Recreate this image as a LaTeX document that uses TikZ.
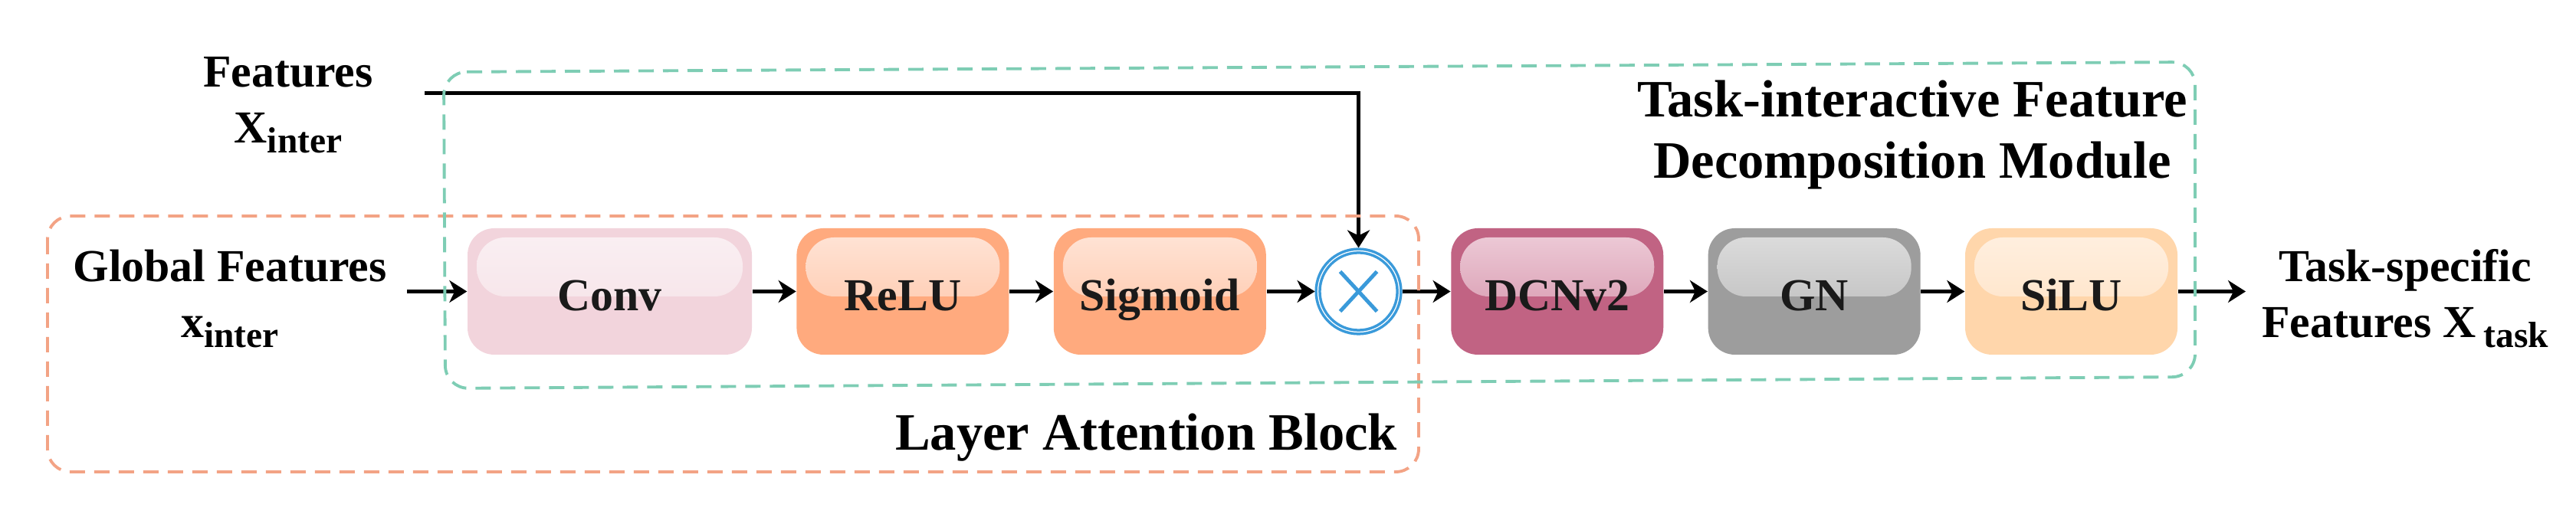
\documentclass[tikz,border=0pt]{standalone}
\usepackage{fontspec}
\setmainfont{Liberation Serif}
\usetikzlibrary{positioning,arrows.meta,calc}

\definecolor{convpink}{HTML}{F2D4DC}
\definecolor{convshine}{HTML}{FAF0F3}
\definecolor{relusalmon}{HTML}{FFAA7E}
\definecolor{relushine}{HTML}{FFE5D8}
\definecolor{dcnrose}{HTML}{C16383}
\definecolor{dcnshine}{HTML}{EECDD9}
\definecolor{gngray}{HTML}{9D9D9D}
\definecolor{gnshine}{HTML}{DEDEDE}
\definecolor{silupeach}{HTML}{FFD6AB}
\definecolor{silushine}{HTML}{FFF0E1}
\definecolor{mulblue}{HTML}{3A9ADA}
\definecolor{blockorange}{HTML}{F3A385}
\definecolor{modulegreen}{HTML}{7ECDB4}
\definecolor{blocktext}{HTML}{1A1A1A}

\newcommand{\subtxt}[1]{\raisebox{-3.7pt}{\fontsize{13.5pt}{14pt}\selectfont #1}}

\tikzset{
	glossy/.style 2 args={
		rectangle, rounded corners=0.35cm,
		minimum width=2.77cm, minimum height=1.65cm,
		text height=14pt, text depth=0pt,
		fill=#1, text=blocktext,
		path picture={
			\fill[rounded corners=0.37cm, top color=#2, bottom color=#2!35!#1]
			([xshift=0.12cm,yshift=-0.12cm]path picture bounding box.north west)
			rectangle ([xshift=-0.12cm,yshift=-0.89cm]path picture bounding box.north east);
		}
	},
	multiply/.style={
		circle, draw=mulblue, line width=1pt, double=white, double distance=0.35pt,
		minimum size=1.06cm, inner sep=0pt, outer sep=0.04cm,
		path picture={
			\draw[mulblue, line width=1.4pt]
			($(path picture bounding box.center)+(-0.24,0.26)$) -- ($(path picture bounding box.center)+(0.24,-0.26)$)
			($(path picture bounding box.center)+(0.24,0.26)$) -- ($(path picture bounding box.center)+(-0.24,-0.26)$);
		}
	},
	flow/.style={->, line width=1.6pt},
	dashbox/.style={draw=#1, line width=1.1pt, dash pattern=on 0.2cm off 0.12cm, rounded corners=0.3cm},
	title/.style={font=\fontsize{19.5pt}{22.5pt}\selectfont\bfseries}
}

\begin{document}
	\begin{tikzpicture}[
		font=\fontsize{17pt}{20.8pt}\selectfont\bfseries,
		>={Stealth[length=0.23cm,width=0.29cm,inset=0.07cm]}
		]
		\useasboundingbox (0,0) rectangle (33.61,-6.71);
		
		% main chain
		\node[glossy={convpink}{convshine}, minimum width=3.71cm] (conv) at (7.955,-3.805) {Conv};
		\node[glossy={relusalmon}{relushine}, right=0.57cm of conv] (relu) {ReLU};
		\node[glossy={relusalmon}{relushine}, right=0.57cm of relu] (sigm) {Sigmoid};
		\node[multiply, right=0.63cm of sigm] (mul) {};
		\node[glossy={dcnrose}{dcnshine}, right=0.63cm of mul] (dcn) {DCNv2};
		\node[glossy={gngray}{gnshine}, right=0.57cm of dcn] (gn) {GN};
		\node[glossy={silupeach}{silushine}, right=0.57cm of gn] (silu) {SiLU};
		
		% inputs and output
		\node[align=center] (feat) at (3.76,-1.37) {Features\\X\subtxt{inter}};
		\node[align=center] (glob) at (3.0,-3.90) {Global Features\\x\subtxt{inter}};
		\node[align=center] (task) at (31.38,-3.90) {Task-specific\\Features X\,\subtxt{task}};
		\coordinate (featout) at (5.54,-1.217);
		\coordinate (globout) at (5.31,-3.805);
		\coordinate (taskin) at (29.30,-3.805);
		
		\draw[flow] (globout) -- (conv);
		\draw[flow] (conv) -- (relu);
		\draw[flow] (relu) -- (sigm);
		\draw[flow] (sigm) -- (mul);
		\draw[flow] (mul) -- (dcn);
		\draw[flow] (dcn) -- (gn);
		\draw[flow] (gn) -- (silu);
		\draw[flow] (silu) -- (taskin);
		\draw[flow, line width=1.3pt] (featout) -| (mul);
		
		% module outlines
		\draw[dashbox=blockorange] (0.62,-2.82) rectangle (18.51,-6.16);
		\draw[dashbox=modulegreen] (5.79,-0.94) -- (28.64,-0.81) -- (28.64,-4.92) -- (5.81,-5.07) -- cycle;
		\node[title, anchor=base] (lab) at (14.955,-5.88) {Layer Attention Block};
		\node[title, align=center] (tifd) at (24.95,-1.76) {Task-interactive Feature\\Decomposition Module};
	\end{tikzpicture}
\end{document}
